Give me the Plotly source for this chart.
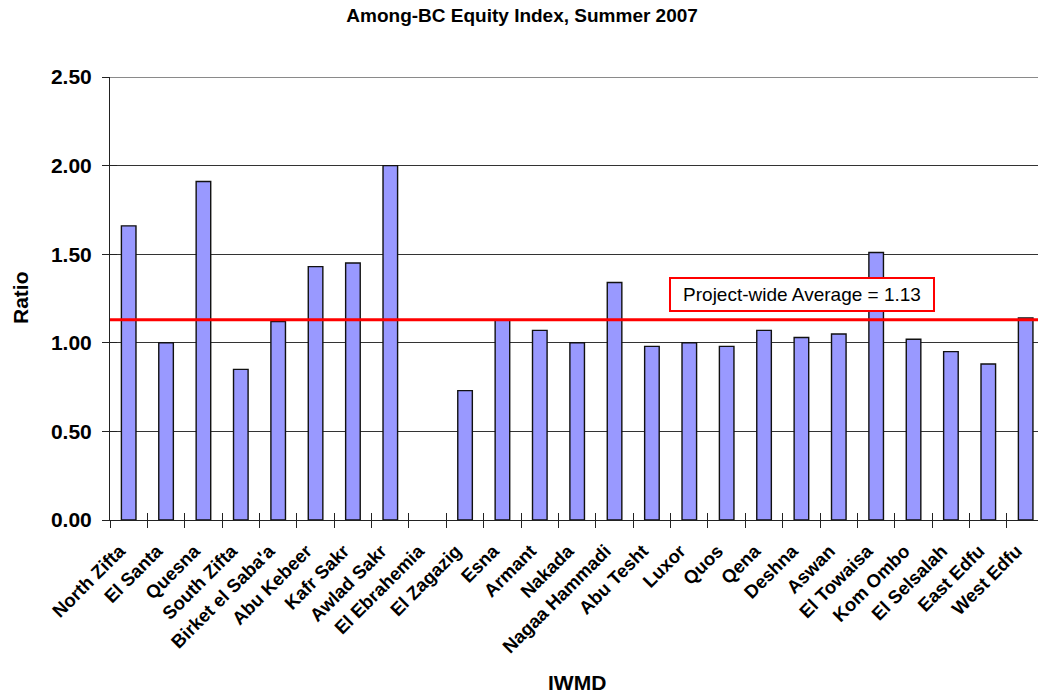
import plotly.graph_objects as go

# IWMD districts and their among-BC equity ratio, summer 2007
districts = [
    "North Zifta", "El Santa", "Quesna", "South Zifta", "Birket el Saba'a",
    "Abu Kebeer", "Kafr Sakr", "Awlad Sakr", "El Ebrahemia", "El Zagazig",
    "Esna", "Armant", "Nakada", "Nagaa Hammadi", "Abu Tesht", "Luxor",
    "Quos", "Qena", "Deshna", "Aswan", "El Towaisa", "Kom Ombo",
    "El Selsalah", "East Edfu", "West Edfu",
]
ratios = [
    1.66, 1.00, 1.91, 0.85, 1.12,
    1.43, 1.45, 2.00, None, 0.73,
    1.13, 1.07, 1.00, 1.34, 0.98, 1.00,
    0.98, 1.07, 1.03, 1.05, 1.51, 1.02,
    0.95, 0.88, 1.14,
]
project_average = 1.13
y_ticks = [0.0, 0.5, 1.0, 1.5, 2.0, 2.5]

FONT = "Liberation Sans, Arial, sans-serif"
x_range = [-0.5, 24.33]

fig = go.Figure()

fig.add_trace(go.Bar(
    x=districts,
    y=ratios,
    width=0.39,
    marker=dict(color="#9999FF", line=dict(color="#111111", width=1.4)),
    hoverinfo="x+y",
    showlegend=False,
))

# invisible copy on overlay axes so tick marks can cross the axis lines
fig.add_trace(go.Bar(
    x=districts,
    y=ratios,
    xaxis="x2",
    yaxis="y2",
    opacity=0,
    hoverinfo="skip",
    showlegend=False,
))

fig.update_layout(
    width=1038,
    height=696,
    margin=dict(l=110, r=0, t=77, b=176),
    paper_bgcolor="white",
    plot_bgcolor="white",
    font=dict(family=FONT, color="black"),
    title=dict(
        text="<b>Among-BC Equity Index, Summer 2007</b>",
        x=0.503, xref="container", xanchor="center",
        y=1 - 15 / 696, yref="container", yanchor="middle",
        font=dict(size=19, family=FONT, color="black"),
    ),
    xaxis=dict(
        type="category",
        range=x_range,
        tickangle=-45,
        tickfont=dict(size=18.5, family=FONT, color="black", weight="bold"),
        ticks="outside",
        ticklen=7,
        tickcolor="#222222",
        tickson="boundaries",
        ticklabelstandoff=12,
        ticklabelshift=-9,
        showline=True,
        linecolor="#222222",
        linewidth=1,
        showgrid=False,
        zeroline=False,
    ),
    yaxis=dict(
        range=[0, 2.5],
        tickvals=y_ticks,
        tickformat=".2f",
        tickfont=dict(size=21, family=FONT, color="black", weight="bold"),
        ticks="outside",
        ticklen=7,
        tickcolor="#222222",
        ticklabelstandoff=6,
        showline=True,
        linecolor="#222222",
        linewidth=1,
        showgrid=True,
        gridcolor="#333333",
        gridwidth=1,
        zeroline=False,
    ),
    xaxis2=dict(
        type="category",
        overlaying="x",
        range=x_range,
        ticks="inside",
        ticklen=7,
        tickcolor="#222222",
        tickson="boundaries",
        showticklabels=False,
        showgrid=False,
        zeroline=False,
        side="bottom",
    ),
    yaxis2=dict(
        overlaying="y",
        range=[0, 2.5],
        tickvals=y_ticks,
        ticks="inside",
        ticklen=7,
        tickcolor="#222222",
        showticklabels=False,
        showgrid=False,
        zeroline=False,
        side="left",
    ),
    bargap=0.6,
)

# top border of the plot area
fig.add_shape(
    type="line", xref="paper", yref="y",
    x0=0, x1=1, y0=2.5, y1=2.5,
    line=dict(color="#8a8a8a", width=2),
)

# project-wide average line and its label
fig.add_shape(
    type="line", xref="paper", yref="y",
    x0=0, x1=1, y0=project_average, y1=project_average,
    line=dict(color="#FF0000", width=3),
)
fig.add_annotation(
    text=f"Project-wide Average = {project_average:.2f}",
    xref="paper", yref="y",
    x=(801.7 - 110) / 928, y=project_average,
    xanchor="center", yanchor="bottom", yshift=8,
    showarrow=False,
    font=dict(size=19, family=FONT, color="black"),
    bgcolor="white",
    bordercolor="#FF0000",
    borderwidth=2,
    borderpad=5,
    width=252,
)

# axis titles
fig.add_annotation(
    text="<b>Ratio</b>", xref="paper", yref="paper",
    x=-90 / 928, y=(520 - 298) / 443,
    xanchor="center", yanchor="middle", textangle=-90,
    showarrow=False, font=dict(size=21, family=FONT, color="black"),
)
fig.add_annotation(
    text="<b>IWMD</b>", xref="paper", yref="paper",
    x=(577 - 110) / 928, y=-162 / 443,
    xanchor="center", yanchor="middle",
    showarrow=False, font=dict(size=21, family=FONT, color="black"),
)

fig.write_html("out.html")
